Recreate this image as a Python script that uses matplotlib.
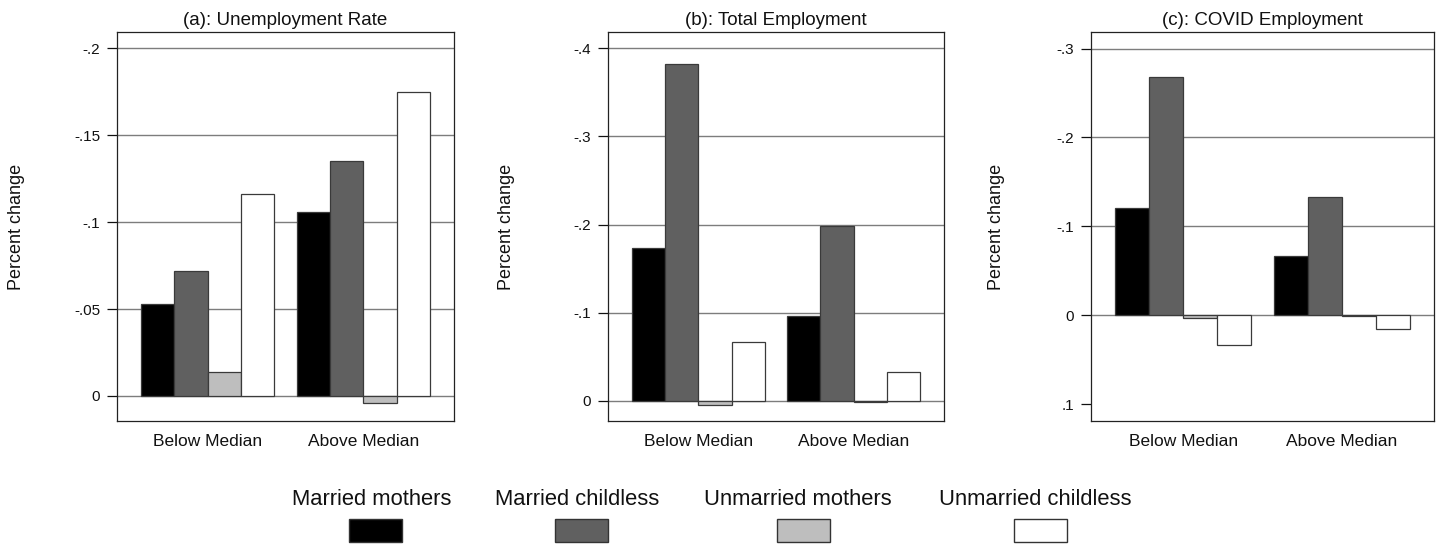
import matplotlib
matplotlib.use("Agg")
import matplotlib.pyplot as plt
from matplotlib.patches import Rectangle

plt.rcParams['font.family'] = ['Liberation Sans', 'DejaVu Sans']

# ---------------- data ----------------
groups = ["Below Median", "Above Median"]
series = ["Married mothers", "Married childless", "Unmarried mothers", "Unmarried childless"]
colors = ["#000000", "#606060", "#bebebe", "#ffffff"]

titles = ["(a): Unemployment Rate", "(b): Total Employment", "(c): COVID Employment"]

# values per panel: rows = groups (Below, Above), cols = series
unemp_below = [-0.053, -0.072, -0.014, -0.116]
unemp_above = [-0.106, -0.135, 0.004, -0.175]
total_below = [-0.173, -0.382, 0.004, -0.067]
total_above = [-0.096, -0.199, 0.0015, -0.033]
covid_below = [-0.121, -0.268, 0.003, 0.034]
covid_above = [-0.067, -0.133, 0.0005, 0.015]

unemp_ticks = [0, -0.05, -0.1, -0.15, -0.2]
unemp_ticklabels = ["0", "-.05", "-.1", "-.15", "-.2"]
total_ticks = [0, -0.1, -0.2, -0.3, -0.4]
total_ticklabels = ["0", "-.1", "-.2", "-.3", "-.4"]
covid_ticks = [0.1, 0, -0.1, -0.2, -0.3]
covid_ticklabels = [".1", "0", "-.1", "-.2", "-.3"]

panels = [
    dict(title=titles[0], vals=[unemp_below, unemp_above], ticks=unemp_ticks,
         labels=unemp_ticklabels, grid=[0, -0.05, -0.1, -0.15, -0.2]),
    dict(title=titles[1], vals=[total_below, total_above], ticks=total_ticks,
         labels=total_ticklabels, grid=[0, -0.1, -0.2, -0.3, -0.4]),
    dict(title=titles[2], vals=[covid_below, covid_above], ticks=covid_ticks,
         labels=covid_ticklabels, grid=[0, -0.1, -0.2, -0.3]),
]

# ---------------- layout ----------------
W, H = 1443, 546
fig = plt.figure(figsize=(W / 100, H / 100), dpi=100)
fig.patch.set_facecolor("white")

ax_px = [(117, 454), (608, 944), (1091, 1434)]
top_px, bot_px = 32, 421
ylims = [(0.0144, -0.2094), (0.0227, -0.4185), (0.119, -0.3187)]
ylabel_x = [-0.297, -0.301, -0.275]

gap = 0.68
margin = 0.72
text_color = "#111111"

for p, (l, r), yl, lx in zip(panels, ax_px, ylims, ylabel_x):
    ax = fig.add_axes([l / W, 1 - bot_px / H, (r - l) / W, (bot_px - top_px) / H])
    centers = []
    for g, vals in enumerate(p["vals"]):
        base = g * (len(series) + gap)
        xs = [base + i for i in range(len(series))]
        ax.bar(xs, vals, width=1.0, color=colors, edgecolor="#3a3a3a",
               linewidth=0.9, zorder=3)
        centers.append(base + (len(series) - 1) / 2)
    for gv in p["grid"]:
        ax.axhline(gv, color="#7d7d7d", linewidth=1.0, zorder=1)
    ax.set_xlim(-0.5 - margin, (len(groups) - 1) * (len(series) + gap) + len(series) - 0.5 + margin)
    ax.set_ylim(*yl)
    ax.set_yticks(p["ticks"])
    ax.set_yticklabels(p["labels"])
    ax.set_xticks(centers)
    ax.set_xticklabels(groups)
    ax.tick_params(axis="y", direction="out", length=7, width=0.9, pad=5,
                   labelsize=11, colors=text_color)
    ax.tick_params(axis="x", length=0, pad=9, labelsize=12.5, colors=text_color)
    for s in ax.spines.values():
        s.set_linewidth(0.9)
        s.set_color("#222222")
    ax.set_title(p["title"], fontsize=13.5, pad=5, color=text_color)
    ax.set_ylabel("Percent change", fontsize=13, color=text_color, va="center")
    ax.yaxis.set_label_coords(lx, 0.5)

# ---------------- legend (label above key) ----------------
label_cx = [371.5, 577, 798.3, 1035.5]
key_cx = [375, 581.3, 803.3, 1040.5]
key_w, key_h = 53, 22.4
key_top = 519.3
for name, col, lcx, kcx in zip(series, colors, label_cx, key_cx):
    fig.text(lcx / W, 1 - 505 / H, name, ha="center", va="baseline",
             fontsize=15.8, color=text_color)
    rect = Rectangle(((kcx - key_w / 2) / W, 1 - (key_top + key_h) / H),
                     key_w / W, key_h / H, transform=fig.transFigure,
                     facecolor=col, edgecolor="#333333", linewidth=1.0)
    fig.add_artist(rect)

fig.savefig("out.png", dpi=100, facecolor="white")
